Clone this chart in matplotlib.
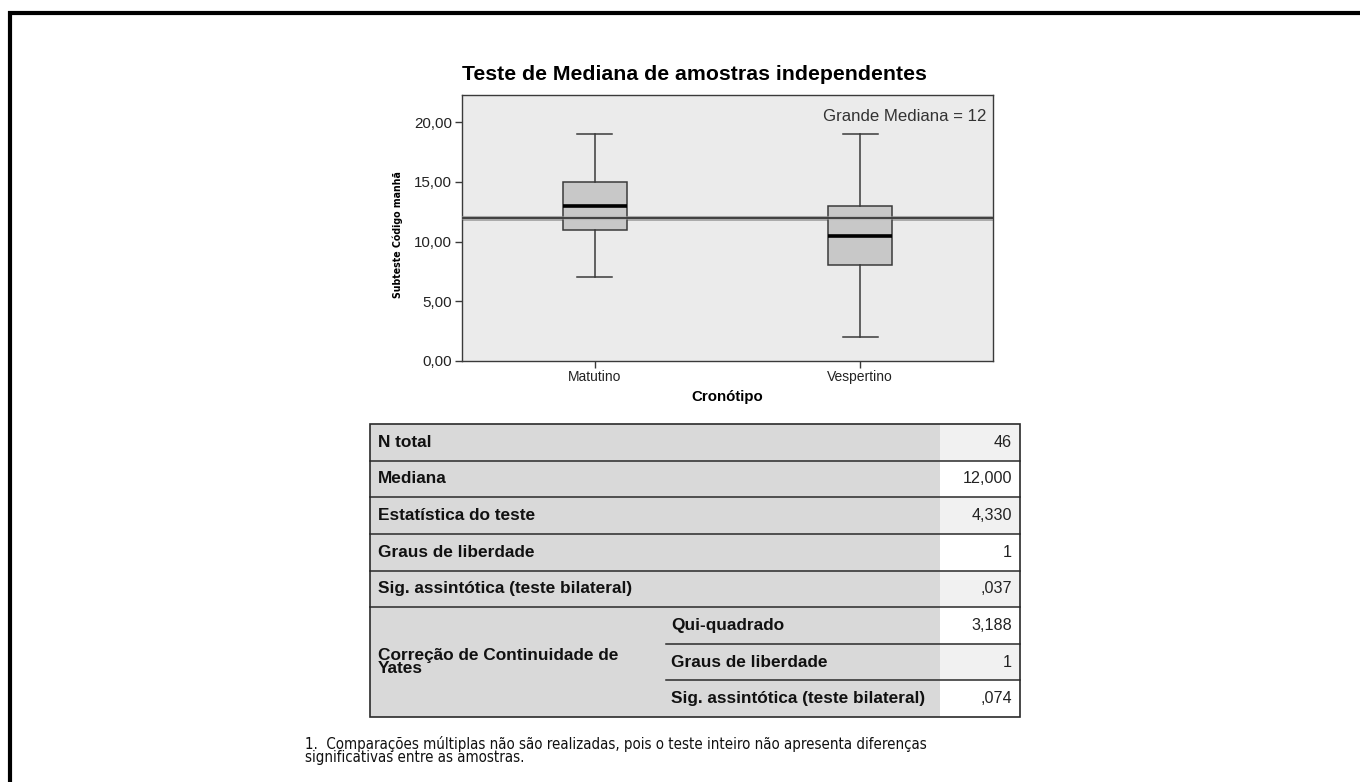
"""
Teste de Mediana de amostras independentes - boxplot + tabela de resumo
"""
import matplotlib
matplotlib.use('Agg')
import matplotlib.pyplot as plt
from matplotlib import font_manager
from matplotlib.patches import Rectangle
from matplotlib.ticker import FuncFormatter

# Dados do boxplot
categories = ['Matutino', 'Vespertino']
whisker_low = [7, 2]
q1 = [11, 8]
medians = [13, 10.5]
q3 = [15, 13]
whisker_high = [19, 19]
grand_median = 12
y_ticks = [0, 5, 10, 15, 20]

# Dados da tabela
table_labels = ['N total', 'Mediana', 'Estatística do teste',
                'Graus de liberdade', 'Sig. assintótica (teste bilateral)']
table_values = ['46', '12,000', '4,330', '1', ',037']
yates_title = 'Correção de Continuidade de\nYates'
yates_labels = ['Qui-quadrado', 'Graus de liberdade', 'Sig. assintótica (teste bilateral)']
yates_values = ['3,188', '1', ',074']

footnote = ['1.  Comparações múltiplas não são realizadas, pois o teste inteiro não apresenta diferenças',
            'significativas entre as amostras.']

W, H = 1360, 782

# fonte estreita (condensada) se existir
cond_names = {f.name for f in font_manager.fontManager.ttflist
              if 'condensed' in str(f.stretch) or 'Narrow' in f.name}
if 'Liberation Sans Narrow' in cond_names:
    narrow = dict(family=['Liberation Sans Narrow', 'DejaVu Sans'])
    has_narrow = True
elif 'DejaVu Sans' in cond_names:
    narrow = dict(family=['DejaVu Sans'], fontstretch='condensed')
    has_narrow = True
else:
    narrow = dict(family=['Liberation Sans', 'DejaVu Sans'])
    has_narrow = False

plt.rcParams['font.family'] = ['Liberation Sans', 'DejaVu Sans']

fig = plt.figure(figsize=(W / 100, H / 100), dpi=100)
fig.patch.set_facecolor('white')

# --- Boxplot ---
px_left, px_right, px_top, px_bottom = 462, 993, 95, 361
ax = fig.add_axes([px_left / W, 1 - px_bottom / H,
                   (px_right - px_left) / W, (px_bottom - px_top) / H])
ax.set_facecolor('#EBEBEB')

stats = []
for i, name in enumerate(categories):
    stats.append({'label': name, 'whislo': whisker_low[i], 'q1': q1[i],
                  'med': medians[i], 'q3': q3[i], 'whishi': whisker_high[i],
                  'fliers': []})

ax.axhline(grand_median, color='#A8A8A8', linewidth=3.5, zorder=1)

ax.bxp(stats, positions=[1, 2], widths=0.24, capwidths=0.13, patch_artist=True,
       showfliers=False,
       boxprops=dict(facecolor='#C8C8C8', edgecolor='#3A3A3A', linewidth=1.1),
       whiskerprops=dict(color='#3A3A3A', linewidth=1.1),
       capprops=dict(color='#3A3A3A', linewidth=1.1),
       medianprops=dict(color='black', linewidth=2.6), zorder=2)
# linha da grande mediana por cima das caixas
ax.axhline(grand_median, color='#A8A8A8', linewidth=3.0, zorder=3, alpha=0.5)
ax.axhline(grand_median, color='#404040', linewidth=1.4, zorder=3)

ax.set_xlim(0.5, 2.5)
ax.set_ylim(0, 22.26)
ax.set_yticks(y_ticks)
ax.yaxis.set_major_formatter(FuncFormatter(lambda v, p: f'{v:.2f}'.replace('.', ',')))
ax.set_xticks([1, 2])
ax.set_xticklabels(categories)
ax.tick_params(axis='y', length=5, width=1, color='#3A3A3A', pad=2,
               labelsize=10.9, labelcolor='#222222')
ax.tick_params(axis='x', length=5, width=1, color='#3A3A3A', pad=1.5,
               labelsize=10, labelcolor='#222222')
for sp in ax.spines.values():
    sp.set_color('#3A3A3A')
    sp.set_linewidth(1.0)

ax.set_xlabel('Cronótipo', fontsize=10.8, fontweight='bold', labelpad=4)
ax.set_ylabel('Subteste Código manhã', fontsize=7.6 if has_narrow else 7.9,
              fontweight='bold', **narrow)
ax.yaxis.set_label_coords(-0.111, 0.477)

ax.text(0.987, 0.921, f'Grande Mediana = {grand_median}', transform=ax.transAxes,
        ha='right', va='center', fontsize=12.1, color='#333333')

fig.text(px_left / W, 1 - 74 / H,
         'Teste de Mediana de amostras independentes',
         ha='left', va='center', fontsize=15.3, fontweight='bold')

# --- camada em pixels para borda, tabela e nota ---
ov = fig.add_axes([0, 0, 1, 1], zorder=-1)
ov.set_xlim(0, W)
ov.set_ylim(H, 0)
ov.axis('off')
ov.patch.set_alpha(0)

# borda da página
ov.plot([8, W], [12.5, 12.5], color='black', linewidth=3, solid_capstyle='butt')
ov.plot([10.3, 10.3], [10.5, H], color='black', linewidth=3, solid_capstyle='butt')

# tabela
x0, x1, xsub, xval = 370, 1020, 666, 940
top = 424
n_rows = len(table_labels) + len(yates_labels)
rh = (717 - top) / n_rows
label_bg = '#D9D9D9'
val_bg = ['#F1F1F1', 'white']
line_c = '#2A2A2A'

ov.add_patch(Rectangle((x0, top), xval - x0, rh * n_rows, facecolor=label_bg,
                       edgecolor='none'))
for r in range(n_rows):
    y = top + r * rh
    ov.add_patch(Rectangle((xval, y), x1 - xval, rh,
                           facecolor=val_bg[r % 2], edgecolor='none'))

lab_fs = 12.4
val_fs = 11.6
for r, (lab, val) in enumerate(zip(table_labels, table_values)):
    yc = top + (r + 0.5) * rh
    ov.text(x0 + 8, yc, lab, ha='left', va='center', fontsize=lab_fs,
            fontweight='bold', color='#111111')
    ov.text(x1 - 8, yc, val, ha='right', va='center', fontsize=val_fs, color='#222222')
    ov.plot([x0, x1], [top + (r + 1) * rh] * 2, color=line_c, linewidth=1.1)

base = len(table_labels)
for k, (lab, val) in enumerate(zip(yates_labels, yates_values)):
    r = base + k
    yc = top + (r + 0.5) * rh
    ov.text(xsub + 5, yc, lab, ha='left', va='center', fontsize=lab_fs,
            fontweight='bold', color='#111111')
    ov.text(x1 - 8, yc, val, ha='right', va='center', fontsize=val_fs, color='#222222')
    if k < len(yates_labels) - 1:
        ov.plot([xsub, x1], [top + (r + 1) * rh] * 2, color=line_c, linewidth=1.1)

ov.text(x0 + 8, top + (base + len(yates_labels) / 2) * rh, yates_title,
        ha='left', va='center', fontsize=lab_fs, fontweight='bold',
        color='#111111', linespacing=0.88)

ov.add_patch(Rectangle((x0, top), x1 - x0, rh * n_rows, facecolor='none',
                       edgecolor=line_c, linewidth=1.2))

# nota de rodapé
fn_fs = 10.8 if has_narrow else 11.0
ov.text(305, 744, footnote[0], ha='left', va='center', fontsize=fn_fs,
        color='#111111', **narrow)
ov.text(305, 757.5, footnote[1], ha='left', va='center', fontsize=fn_fs,
        color='#111111', **narrow)

fig.savefig('out.png', dpi=100)
plt.close(fig)
